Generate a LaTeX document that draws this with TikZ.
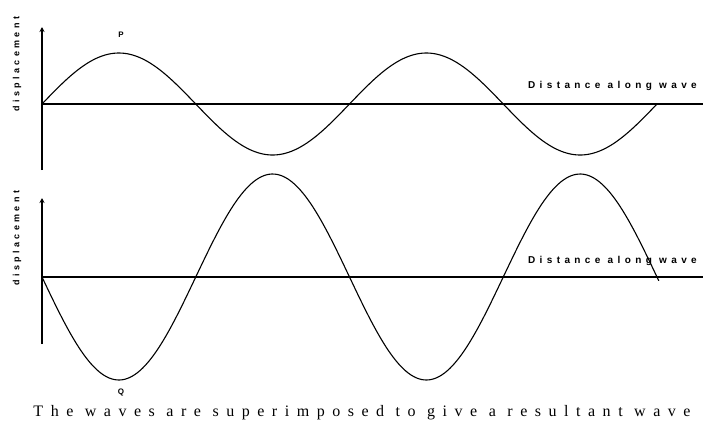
\documentclass[tikz,border=0pt]{standalone}
\usepackage{fontspec}
\setmainfont{Liberation Serif}
\newfontfamily\lblfont[LetterSpace=44]{Liberation Sans Bold}
\newfontfamily\dispfont[LetterSpace=37]{Liberation Sans Bold}
\newfontfamily\capfont[LetterSpace=47]{Liberation Serif}
\newfontfamily\ptfont{Liberation Sans Bold}
\usetikzlibrary{arrows.meta}
\begin{document}
\begin{tikzpicture}[x=1pt,y=-1pt,
  axis/.style={line width=2.6pt},
  vaxis/.style={line width=2pt,-{Stealth[length=5pt,width=5pt]}},
  wave/.style={line width=1.1pt},
  dist/.style={font=\lblfont\fontsize{10}{11}\selectfont,inner sep=0pt},
  disp/.style={font=\dispfont\fontsize{9}{10}\selectfont,inner sep=0pt,rotate=90},
  pt/.style={font=\ptfont\fontsize{8}{9}\selectfont,inner sep=0pt}]
\useasboundingbox (0,0) rectangle (703,440);
% top graph
\coordinate (t0) at (42,104);
\coordinate (tE) at (703,104);
\coordinate (tB) at (42,170);
\coordinate (tT) at (42,27);
\draw[axis] (t0) -- (tE);
\draw[vaxis] (tB) -- (tT);
\draw[wave] plot[domain=0:2,samples=240,smooth] ({42+307.5*\x},{104-51*sin(360*\x)});
\node[dist,anchor=east] (dtop) at (697,86) {Distance along wave};
\node[disp] (vtop) at (17,64) {displacement};
\node[pt] (P) at (121,35) {P};
% bottom graph
\coordinate (b0) at (42,277);
\coordinate (bE) at (703,277);
\coordinate (bB) at (42,344);
\coordinate (bT) at (42,198);
\draw[axis] (b0) -- (bE);
\draw[vaxis] (bB) -- (bT);
\draw[wave] plot[domain=0:2.006,samples=240,smooth] ({42+307.5*\x},{277+103*sin(360*\x)});
\node[dist,anchor=east] (dbot) at (697,261) {Distance along wave};
\node[disp] (vbot) at (17,238) {displacement};
\node[pt] (Q) at (121,392) {Q};
% caption
\node[font=\capfont\fontsize{16}{19}\selectfont,inner sep=0pt] (cap) at (362,413) {The waves are superimposed to give a resultant wave};
\end{tikzpicture}
\end{document}
